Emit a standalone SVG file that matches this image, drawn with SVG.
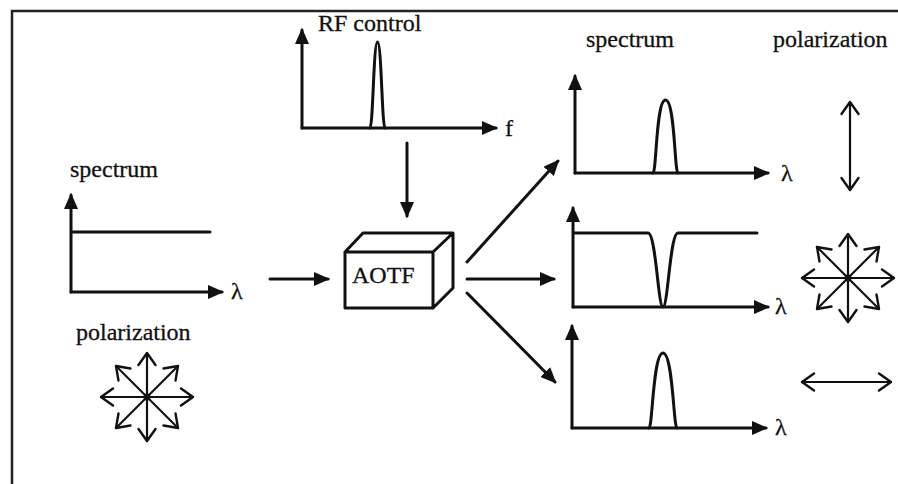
<svg xmlns="http://www.w3.org/2000/svg" width="898" height="484" viewBox="0 0 898 484">
<style>
.ln{stroke:#111;stroke-width:3;fill:none;stroke-linecap:round;stroke-linejoin:round}
.thin{stroke:#111;stroke-width:2.2;fill:none;stroke-linecap:round}
.t{font-family:"Liberation Serif","Times New Roman",serif;font-size:24px;fill:#111;stroke:#111;stroke-width:0.3}
</style>
<defs>
<marker id="ah" viewBox="0 0 16 14" refX="14" refY="7" markerWidth="16" markerHeight="14" orient="auto" markerUnits="userSpaceOnUse">
<path d="M0,0 L16,7 L0,14 z" fill="#111"/>
</marker>
<marker id="ch" viewBox="0 0 16 20" refX="14" refY="10" markerWidth="16" markerHeight="20" orient="auto-start-reverse" markerUnits="userSpaceOnUse">
<path d="M2,1.5 L14,10 L2,18.5" fill="none" stroke="#111" stroke-width="2.4" stroke-linecap="round" stroke-linejoin="round"/>
</marker>
<g id="star">
<line class="thin" x1="0" y1="0" x2="0" y2="-44" marker-end="url(#ch)"/>
<line class="thin" x1="0" y1="0" x2="0" y2="44" marker-end="url(#ch)"/>
<line class="thin" x1="0" y1="0" x2="-46" y2="0" marker-end="url(#ch)"/>
<line class="thin" x1="0" y1="0" x2="46" y2="0" marker-end="url(#ch)"/>
<line class="thin" x1="0" y1="0" x2="-31" y2="-31" marker-end="url(#ch)"/>
<line class="thin" x1="0" y1="0" x2="31" y2="-31" marker-end="url(#ch)"/>
<line class="thin" x1="0" y1="0" x2="-31" y2="31" marker-end="url(#ch)"/>
<line class="thin" x1="0" y1="0" x2="31" y2="31" marker-end="url(#ch)"/>
<circle r="3.5" fill="#111"/>
</g>
</defs>
<rect width="898" height="484" fill="#fff"/>
<path d="M12,484 L12,11 L898,11" stroke="#222" stroke-width="2.5" fill="none"/>

<g id="input">
<text class="t" x="70" y="177">spectrum</text>
<path class="ln" d="M71,292 L71,195" marker-end="url(#ah)"/>
<path class="ln" d="M71,292 L222,292" marker-end="url(#ah)"/>
<path class="ln" d="M72,232 L210,232"/>
<text class="t" x="231" y="299">λ</text>
<text class="t" x="76" y="340">polarization</text>
<use href="#star" x="147" y="397"/>
</g>

<g id="rf">
<text class="t" x="318" y="31">RF control</text>
<path class="ln" d="M302,128 L302,30" marker-end="url(#ah)"/>
<path class="ln" d="M302,128 L496,128" marker-end="url(#ah)"/>
<path class="ln" d="M370,128 C373,128 373.5,42 377.5,42 C381.5,42 382,128 385,128"/>
<text class="t" x="505" y="136">f</text>
</g>

<g id="aotf">
<path class="ln" d="M345,252 L433,252 L433,308 L345,308 Z M345,252 L363,233 L453,233 L433,252 M453,233 L453,288 L433,308"/>
<text class="t" x="352" y="283">AOTF</text>
</g>

<g id="out1">
<text class="t" x="586" y="47">spectrum</text>
<text class="t" x="773" y="47">polarization</text>
<path class="ln" d="M575,173 L575,76" marker-end="url(#ah)"/>
<path class="ln" d="M575,173 L768,173" marker-end="url(#ah)"/>
<path class="ln" d="M653,173 C656.5,173 656,100 665.5,100 C675,100 674.5,173 678,173"/>
<text class="t" x="781" y="181">λ</text>
<line class="thin" x1="850" y1="102" x2="850" y2="190" marker-start="url(#ch)" marker-end="url(#ch)"/>
</g>

<g id="out2">
<path class="ln" d="M573,307 L573,208" marker-end="url(#ah)"/>
<path class="ln" d="M573,307 L768,307" marker-end="url(#ah)"/>
<path class="ln" d="M574,233 L648,233 C656,233 658,307 663,307 C668,307 670,233 678,233 L757,233"/>
<text class="t" x="775" y="314">λ</text>
<use href="#star" x="848" y="278"/>
</g>

<g id="out3">
<path class="ln" d="M572,428 L572,326" marker-end="url(#ah)"/>
<path class="ln" d="M572,428 L766,428" marker-end="url(#ah)"/>
<path class="ln" d="M649,428 C652.5,428 653,353 663,353 C673,353 673.5,428 677,428"/>
<text class="t" x="775" y="435">λ</text>
<line class="thin" x1="802" y1="382" x2="891" y2="382" marker-start="url(#ch)" marker-end="url(#ch)"/>
</g>

<g id="connectors">
<path class="ln" d="M270,279 L328,279" marker-end="url(#ah)"/>
<path class="ln" d="M407,143 L407,216" marker-end="url(#ah)"/>
<path class="ln" d="M467,262 L558,161" marker-end="url(#ah)"/>
<path class="ln" d="M467,279 L554,279" marker-end="url(#ah)"/>
<path class="ln" d="M467,293 L555,382" marker-end="url(#ah)"/>
</g>
</svg>
